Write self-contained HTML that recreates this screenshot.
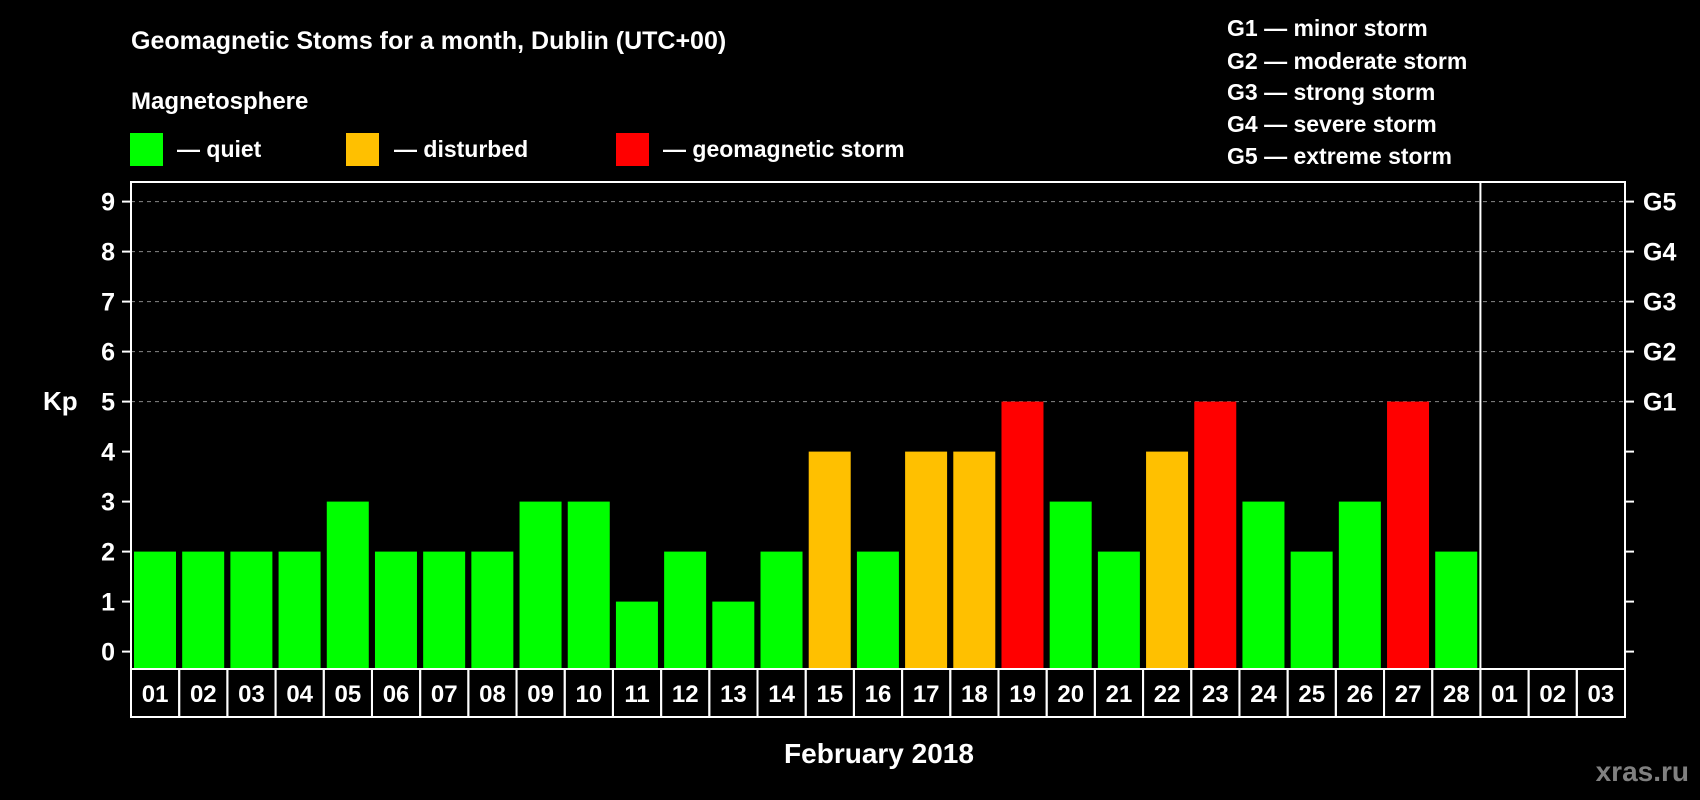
<!DOCTYPE html>
<html><head><meta charset="utf-8"><style>
html,body{margin:0;padding:0;background:#000;}
svg{display:block;font-family:"Liberation Sans",Arial,sans-serif;font-weight:bold;}
</style></head><body>
<svg id="chart" width="1700" height="800" viewBox="0 0 1700 800" xmlns="http://www.w3.org/2000/svg">
<rect x="0" y="0" width="1700" height="800" fill="#000"/>
<text x="131" y="49" fill="#fff" font-size="25">Geomagnetic Stoms for a month, Dublin (UTC+00)</text>
<text x="131" y="109" fill="#fff" font-size="24">Magnetosphere</text>
<g>
<rect x="130" y="133" width="33" height="33" fill="#00ff00"/>
<text x="177" y="157" fill="#fff" font-size="23">— quiet</text></g>
<g>
<rect x="346" y="133" width="33" height="33" fill="#ffc000"/>
<text x="394" y="157" fill="#fff" font-size="23">— disturbed</text></g>
<g>
<rect x="616" y="133" width="33" height="33" fill="#ff0000"/>
<text x="663" y="157" fill="#fff" font-size="23">— geomagnetic storm</text></g>
<g font-size="23" fill="#fff">
<text x="1227" y="36">G1 — minor storm</text>
<text x="1227" y="69">G2 — moderate storm</text>
<text x="1227" y="100">G3 — strong storm</text>
<text x="1227" y="132">G4 — severe storm</text>
<text x="1227" y="164">G5 — extreme storm</text>
</g>
<text x="43" y="410" fill="#fff" font-size="26">Kp</text>
<text x="879" y="763" fill="#fff" font-size="28" text-anchor="middle">February 2018</text>
<text x="1689" y="781" fill="#808080" font-size="28" text-anchor="end">xras.ru</text>
<g id="plot"></g>
</svg>
<script>
const days = ["01","02","03","04","05","06","07","08","09","10","11","12","13","14","15","16","17","18","19","20","21","22","23","24","25","26","27","28","01","02","03"];
const kpValues = [2,2,2,2,3,2,2,2,3,3,1,2,1,2,4,2,4,4,5,3,2,4,5,3,2,3,5,2];
const yTicks = [0,1,2,3,4,5,6,7,8,9];
const gLevels = [5,6,7,8,9];
const gLabels = ["G1","G2","G3","G4","G5"];

const NS = "http://www.w3.org/2000/svg";
const plot = document.getElementById("plot");
const X0 = 131, X1 = 1625, YT = 182, YB = 669, Y0 = 651.6, UNIT = 50;
const colW = (X1 - X0) / days.length;
const xs = i => X0 + i * colW;
const ys = v => Y0 - v * UNIT;
function mk(tag, attrs){const e=document.createElementNS(NS,tag);for(const k in attrs)e.setAttribute(k,attrs[k]);plot.appendChild(e);return e;}

// grid lines
gLevels.forEach((v,i)=>{
  const l = mk("line",{x1:X0,x2:X1,y1:ys(v),y2:ys(v),stroke:"#888","stroke-width":1,"stroke-dasharray":"4,4"});
  
  
  const t = mk("text",{x:1643,y:ys(v)+9,fill:"#fff","font-size":25});
  t.textContent = gLabels[i];
  
  
});
// y ticks
yTicks.forEach(v=>{
  const a = mk("line",{x1:122,x2:X0,y1:ys(v),y2:ys(v),stroke:"#fff","stroke-width":2});
  
  
  const b = mk("line",{x1:X1,x2:1634,y1:ys(v),y2:ys(v),stroke:"#fff","stroke-width":2});
  
  
  const t = mk("text",{x:115,y:ys(v)+9,fill:"#fff","font-size":25,"text-anchor":"end"});
  t.textContent = v;
  
  
});
// bars
kpValues.forEach((v,i)=>{
  const c = v >= 5 ? "#ff0000" : (v >= 4 ? "#ffc000" : "#00ff00");
  const r = mk("rect",{x:xs(i)+3,y:ys(v),width:42,height:YB-ys(v),fill:c});
  
  
});
// plot frame
const fr = mk("rect",{x:X0,y:YT,width:X1-X0,height:YB-YT,fill:"none",stroke:"#fff","stroke-width":2});


const sep = mk("line",{x1:xs(kpValues.length),x2:xs(kpValues.length),y1:YT,y2:YB,stroke:"#fff","stroke-width":2});


// day label cells
days.forEach((d,i)=>{
  const r = mk("rect",{x:xs(i),y:YB,width:colW,height:48,fill:"none",stroke:"#fff","stroke-width":2});
  
  
  const t = mk("text",{x:xs(i)+colW/2,y:YB+33,fill:"#fff","font-size":24,"text-anchor":"middle"});
  t.textContent = d;
  
  
});
</script>
</body></html>
